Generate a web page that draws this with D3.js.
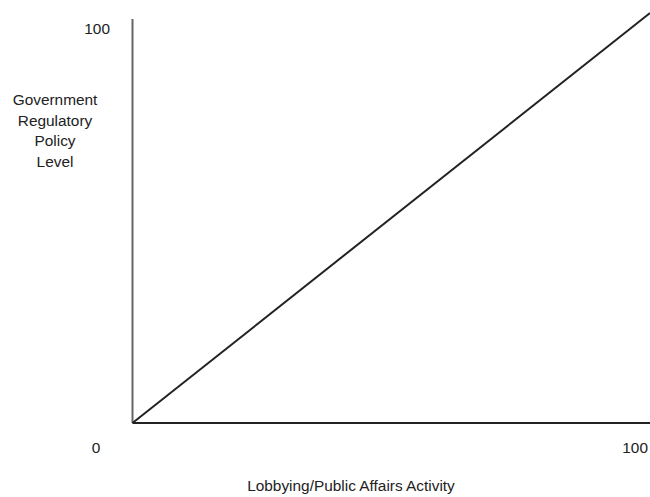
<!DOCTYPE html>
<html>
<head>
<meta charset="utf-8">
<script src="https://cdn.jsdelivr.net/npm/d3@7"></script>
<style>
html,body{margin:0;padding:0;background:#fff;}
svg{display:block;font-family:"Liberation Sans",Arial,sans-serif;}
</style>
</head>
<body>
<svg id="chart" width="650" height="497"></svg>
<script>
const xDomain = [0, 100];
const yDomain = [0, 100];
const xTickLabels = ["0", "100"];
const yTickLabels = ["100"];
const lineData = [[0, 0], [100, 100]];
const xTitle = "Lobbying/Public Affairs Activity";
const yTitleLines = ["Government", "Regulatory", "Policy", "Level"];

const svg = d3.select("#chart");
const x = d3.scaleLinear().domain(xDomain).range([132.5, 650]);
const y = d3.scaleLinear().domain(yDomain).range([423, 13]);

// y axis line (gray)
svg.append("line")
  .attr("x1", x(0)).attr("x2", x(0))
  .attr("y1", y(0)).attr("y2", 19)
  .attr("stroke", "#666").attr("stroke-width", 2);

// x axis line
svg.append("line")
  .attr("x1", x(0)).attr("x2", x(100))
  .attr("y1", y(0)).attr("y2", y(0))
  .attr("stroke", "#222").attr("stroke-width", 2);

// diagonal
svg.append("path")
  .datum(lineData)
  .attr("d", d3.line().x(d => x(d[0])).y(d => y(d[1])))
  .attr("fill", "none").attr("stroke", "#222").attr("stroke-width", 2);

const txt = (t, px, py, anchor) => svg.append("text")
  .attr("x", px).attr("y", py).attr("text-anchor", anchor || "middle")
  .attr("font-size", 15.4).attr("fill", "#222").text(t);

// tick labels
txt(yTickLabels[0], 110, 34, "end");
txt(xTickLabels[0], 96, 453);
txt(xTickLabels[1], 648, 453, "end");

// titles
txt(xTitle, 351, 491);
yTitleLines.forEach((t, i) => txt(t, 55, 105 + i * 20.5));
</script>
</body>
</html>
